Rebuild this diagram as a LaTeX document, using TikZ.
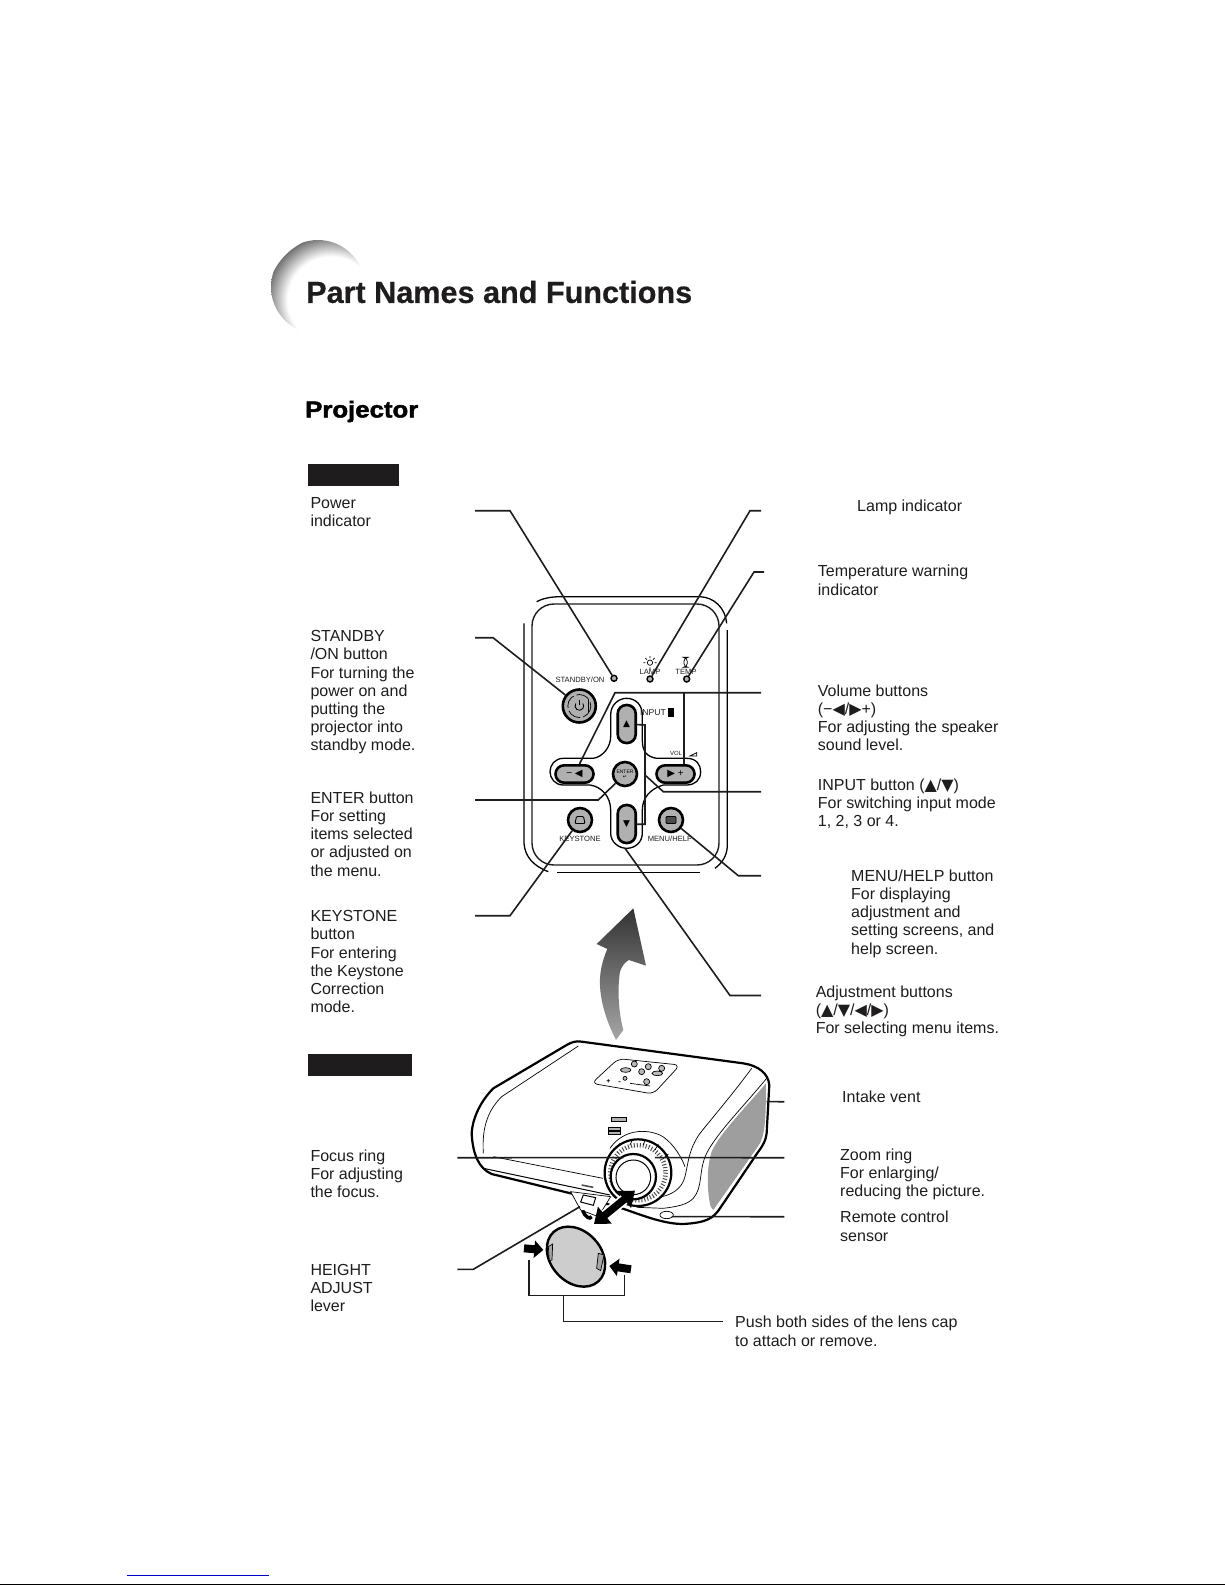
\documentclass[tikz,border=0pt]{standalone}
\usepackage{fontspec}
\usepackage{xcolor}
\usepackage{tikz}
\usetikzlibrary{arrows.meta, shapes.misc, calc}
\setmainfont{Liberation Sans}
\newfontfamily\symfont{DejaVu Sans}
\newfontfamily\heavyfont[UprightFont=* Bold,FakeBold=2,FakeStretch=1.12]{Liberation Sans}
\newfontfamily\titlefont[UprightFont=* Bold,FakeBold=0.5]{Liberation Sans}
\newcommand{\tri}[1]{{\symfont #1}}
\definecolor{myink}{RGB}{30,28,29}
\definecolor{mybutton}{RGB}{176,176,176}
\definecolor{myshade}{RGB}{158,158,158}
\definecolor{mycap}{RGB}{205,205,205}
\definecolor{mylink}{RGB}{0,0,204}
\pgfdeclareradialshading{ballrim}{\pgfpoint{0bp}{0bp}}{color(0bp)=(white); color(17bp)=(white); color(26bp)=(black!62); color(50bp)=(black!62)}
\tikzset{
  caption/.style={anchor=north west, align=left, inner sep=0pt, text=myink,
    font=\fontsize{16}{18.2}\selectfont},
  tiny/.style={inner sep=0pt, text=myink, font=\fontsize{7.6}{9}\selectfont},
  blackbar/.style={rectangle, fill=myink, inner sep=0pt, anchor=north west},
  panel/.style={rectangle, draw=myink, rounded corners=22pt, line width=1.4pt,
    minimum width=187pt, minimum height=261pt},
  roundbtn/.style={circle, draw=black, fill=mybutton, line width=2.6pt, inner sep=0pt},
  led/.style={circle, draw=black, fill=mybutton, line width=1.4pt,
    minimum size=6pt, inner sep=0pt},
  hpill/.style={rectangle, draw=black, fill=mybutton, line width=2.6pt, rounded corners=8.6pt,
    minimum width=38pt, minimum height=17.4pt, inner sep=0pt, font=\fontsize{10}{10}\selectfont},
  vpill/.style={rectangle, draw=black, fill=mybutton, line width=2.6pt, rounded corners=8.6pt,
    minimum width=18pt, minimum height=38pt, inner sep=0pt, font=\fontsize{9}{9}\selectfont},
  leader/.style={line width=1.6pt, draw=myink},
  thinline/.style={line width=0.7pt, draw=black},
  bodyline/.style={line width=2.2pt, draw=black},
  fatarrow/.style={line width=7.5pt, draw=black}
}

\begin{document}
\begin{tikzpicture}[x=1pt, y=-1pt]
  \useasboundingbox (0,0) rectangle (1225,1585);

  % corner ball behind the title
  \begin{scope}
    \clip (318,287) circle (47);
    \shade[shading=ballrim] (331,300) circle (64);
  \end{scope}
  \node[anchor=west, inner sep=0pt, text=myink, font=\fontsize{30.6}{31}\titlefont] (title) at (306,292) {Part Names and Functions};
  \node[anchor=west, inner sep=0pt, font=\fontsize{23}{23}\heavyfont] (sub) at (305,411.5) {Projector};
  \node[blackbar, minimum width=91pt, minimum height=22pt] (topbar) at (308,464) {};
  \node[blackbar, minimum width=104pt, minimum height=22pt] (sidebar) at (308,1054) {};

  % left captions
  \node[caption] (cpower) at (310.3,495.3) {\strut Power\\indicator};
  \node[caption] (cstandby) at (310.3,628.8) {\strut STANDBY\\/ON button\\For turning the\\power on and\\putting the\\projector into\\standby mode.};
  \node[caption] (center) at (310.3,790.4) {\strut ENTER button\\For setting\\items selected\\or adjusted on\\the menu.};
  \node[caption] (ckey) at (310.3,908.7) {\strut KEYSTONE\\button\\For entering\\the Keystone\\Correction\\mode.};
  \node[caption] (cfocus) at (310.3,1148.2) {\strut Focus ring\\For adjusting\\the focus.};
  \node[caption] (cheight) at (310.3,1262.5) {\strut HEIGHT\\ADJUST\\lever};

  % right captions
  \node[caption] (clamp) at (857,498.4) {\strut Lamp indicator};
  \node[caption] (ctemp) at (817.7,564) {\strut Temperature warning\\indicator};
  \node[caption] (cvol) at (817.7,683.3) {\strut Volume buttons\\(−\tri{◀}/\tri{▶}+)\\For adjusting the speaker\\sound level.};
  \node[caption] (cinput) at (817.7,777.3) {\strut INPUT button (\tri{▲}/\tri{▼})\\For switching input mode\\1, 2, 3 or 4.};
  \node[caption] (cmenu) at (851,868.3) {\strut MENU/HELP button\\For displaying\\adjustment and\\setting screens, and\\help screen.};
  \node[caption] (cadj) at (815.6,984.5) {\strut Adjustment buttons\\(\tri{▲}/\tri{▼}/\tri{◀}/\tri{▶})\\For selecting menu items.};
  \node[caption] (cintake) at (842,1089.6) {\strut Intake vent};
  \node[caption] (czoom) at (840,1147.2) {\strut Zoom ring\\For enlarging/\\reducing the picture.};
  \node[caption] (cremote) at (840,1209.9) {\strut Remote control\\sensor};
  \node[caption] (cpush) at (735,1315) {\strut Push both sides of the lens cap\\to attach or remove.};

  % control panel
  \node[panel] (panel) at (625.5,734.5) {};
  \begin{scope}[shift={(470,580)}, x=0.3333pt, y=-0.3333pt]
    \draw[thinline, line width=1.3pt] (162,130) -- (162,790) .. controls (165,830) and (190,858) .. (235,875);
    \draw[thinline, line width=1.3pt] (200,65) .. controls (225,52) and (250,50) .. (280,50) -- (690,50) .. controls (730,52) and (765,80) .. (770,130);
    \draw[thinline, line width=1.3pt] (772,150) -- (772,800) .. controls (770,830) and (755,850) .. (735,865);
    \draw[thinline, line width=1.3pt] (262,878) -- (690,878);
    \draw[thinline, line width=1.3pt, fill=white] (422,405) .. controls (422,375) and (445,355) .. (470,355) .. controls (497,355) and (517,375) .. (517,405) -- (517,480) .. controls (517,515) and (530,530) .. (560,535) -- (650,535) .. controls (680,535) and (692,555) .. (692,575) .. controls (692,600) and (675,615) .. (650,615) -- (580,615) .. controls (545,625) and (517,650) .. (517,690) -- (517,760) .. controls (517,785) and (497,805) .. (470,805) .. controls (445,805) and (422,785) .. (422,760) -- (422,690) .. controls (422,650) and (395,620) .. (360,615) -- (280,615) .. controls (255,615) and (240,595) .. (240,575) .. controls (240,555) and (255,535) .. (280,535) -- (370,535) .. controls (400,530) and (422,500) .. (422,470) -- cycle;
    % lamp and temperature marks
    \draw[thinline] (540,248) circle (8);
    \draw[thinline] (540,228) -- (540,234) (540,262) -- (540,268) (520,248) -- (526,248) (554,248) -- (560,248) (526,234) -- (531,239) (554,234) -- (549,239);
    \draw[thinline, rounded corners=4pt] (642,232) rectangle (652,262);
    \draw[thinline, fill=black] (596,384) rectangle (610,408);
    \draw[thinline] (660,528) -- (680,518) -- (680,528) -- cycle;
  \end{scope}

  \node[tiny] (tstandby) at (580,679.5) {STANDBY/ON};
  \node[tiny] (tlamp) at (650,671.5) {LAMP};
  \node[tiny] (ttemp) at (686,671.5) {TEMP};
  \node[tiny, font=\fontsize{8.6}{9}\selectfont] (tinput) at (653,713) {INPUT};
  \node[tiny, font=\fontsize{6}{7}\selectfont] (tvol) at (676,753.5) {VOL};
  \node[tiny] (tkey) at (580,838.5) {KEYSTONE};
  \node[tiny] (tmenu) at (670,838.5) {MENU/HELP};

  \node[led] (ledstandby) at (614,678.3) {};
  \node[led] (ledlamp) at (650,679) {};
  \node[led] (ledtemp) at (686.7,679) {};
  \node[roundbtn, minimum size=33pt] (btnpower) at (579.3,706) {};
  \draw[thinline, dash pattern=on 14pt off 3pt] (btnpower) circle (11.5);
  \draw[thinline, line width=0.9pt] ($(btnpower)+(-3.5,-2.5)$) arc[start angle=215, end angle=-35, radius=4.3];
  \draw[thinline, line width=0.9pt] ($(btnpower)+(0,-6.5)$) -- ($(btnpower)+(0,-1)$);
  \draw[thinline, line width=0.9pt] ($(btnpower)+(9,-6)$) -- ($(btnpower)+(9,6)$);
  \node[vpill] (btnup) at (626.7,724) {\tri{▲}};
  \node[vpill] (btndown) at (626.7,824) {\tri{▼}};
  \node[hpill] (btnminus) at (574.5,774) {− \tri{◀}};
  \node[hpill] (btnplus) at (675.5,774) {\tri{▶} +};
  \node[roundbtn, minimum size=24pt, align=center, font=\fontsize{5}{6}\selectfont] (btnenter) at (625,774) {ENTER\\[-1pt]\tri{↵}};
  \node[roundbtn, minimum size=24pt] (btnkey) at (580,820) {};
  \node[roundbtn, minimum size=24pt] (btnmenu) at (671,820) {};
  \draw[thinline, line width=0.9pt, rounded corners=1pt] ($(btnkey)+(-5,3.5)$) -- ($(btnkey)+(-3.5,-3.5)$) -- ($(btnkey)+(3.5,-3.5)$) -- ($(btnkey)+(5,3.5)$) -- cycle;
  \draw[thinline, line width=0.9pt, fill=black!70, rounded corners=1pt] ($(btnmenu)+(-5,-3.5)$) rectangle ($(btnmenu)+(5,3.5)$);

  % lift arrow
  \begin{scope}[shift={(580,895)}, x=0.3333pt, y=-0.3333pt]
    \shade[top color=black!80, bottom color=black!35] (160,40) -- (50,147) -- (82,162) .. controls (65,200) and (58,240) .. (60,270) .. controls (62,330) and (85,390) .. (108,435) -- (130,405) .. controls (115,350) and (112,280) .. (120,230) .. controls (125,215) and (135,200) .. (147,195) -- (198,212) -- cycle;
  \end{scope}

  % projector
  \begin{scope}[shift={(450,1020)}, x=0.3333pt, y=-0.3333pt]
    \draw[bodyline, fill=white] (65,340) .. controls (68,290) and (95,240) .. (130,205) -- (350,75) .. controls (365,66) and (380,62) .. (395,65) -- (880,130) .. controls (925,137) and (955,160) .. (958,195) -- (950,340) .. controls (948,360) and (940,375) .. (925,395) -- (810,565) .. controls (790,595) and (770,608) .. (700,612) .. controls (650,612) and (600,595) .. (525,568) -- (370,522) -- (125,462) .. controls (85,445) and (68,400) .. (65,340) -- cycle;
    \fill[myshade] (948,190) .. controls (880,270) and (810,340) .. (785,395) .. controls (770,440) and (770,510) .. (782,560) -- (790,570) -- (925,378) .. controls (945,350) and (948,300) .. cycle;
    \draw[thinline] (100,400) .. controls (95,320) and (115,270) .. (155,230) -- (385,78);
    \draw[thinline] (130,410) -- (459,475);
    \draw[thinline, line width=1pt] (100,445) -- (480,525);
    \draw[thinline] (905,145) .. controls (850,220) and (790,290) .. (750,340) .. controls (715,390) and (715,430) .. (705,470) .. controls (695,510) and (660,525) .. (635,530);
    \draw[thinline] (950,175) .. controls (880,260) and (800,340) .. (770,400) .. controls (745,450) and (760,500) .. (730,535) .. controls (710,555) and (680,560) .. (640,565) -- (560,562);
    \draw[thinline] (480,385) .. controls (510,340) and (570,320) .. (630,345) .. controls (660,360) and (690,400) .. (705,440);
    % top controls
    \draw[thinline, fill=white, rounded corners=6pt] (505,116) -- (690,135) -- (610,222) -- (425,190) -- cycle;
    \draw[thinline, fill=gray!55] (553,132) circle (9) (595,140) circle (9) (635,145) circle (9) (575,155) circle (9) (590,185) circle (9) (527,150) ellipse (16 and 7) (622,160) ellipse (16 and 7) (525,175) circle (6);
    \draw[thinline] (470,182) -- (480,182) (475,177) -- (475,187) (505,185) -- (512,185) (540,190) -- (600,198);
    % logo marks
    \draw[thinline, fill=gray!60] (483,293) rectangle (530,305);
    \draw[thinline, fill=gray!60] (476,322) rectangle (510,330) (476,334) rectangle (510,342);
    % lens
    \draw[bodyline, fill=white] (564,458) circle (100);
    \draw[line width=4.5pt, draw=black!70, dash pattern=on 1pt off 2pt] (564,458) circle (83);
    \draw[bodyline, fill=white] (550,470) circle (68);
    \draw[thinline, line width=1pt, fill=white] (550,472) circle (52);
    \draw[thinline] (500,385) -- (510,370) (540,375) -- (548,358) (580,375) -- (586,358) (615,390) -- (625,372) (640,415) -- (655,402);
    % lever and housing
    \draw[thinline, fill=white] (362,515) -- (482,530) -- (445,590) -- (392,570) -- cycle;
    \draw[thinline, line width=1pt, fill=white] (400,525) -- (437,533) -- (430,556) -- (392,546) -- cycle;
    \draw[line width=3.5pt, draw=black] (398,572) .. controls (405,590) and (420,600) .. (425,590);
    \draw[line width=1.6pt, draw=black!70] (395,495) -- (430,502);
    % remote sensor
    \draw[thinline, fill=white] (650,585) ellipse (20 and 11);
    % push arrow
    \coordinate (capend) at (432,612);
    \coordinate (lensend) at (555,512);
    \draw[white, line width=11pt, shorten <=12pt, shorten >=12pt] (capend) -- (lensend);
    \draw[fatarrow, {Triangle[length=14pt,width=21pt]}-{Triangle[length=14pt,width=21pt]}] (capend) -- (lensend);
    % lens cap
    \draw[bodyline, line width=2.4pt, fill=mycap, rotate around={-48:(378,710)}] (378,710) ellipse (100 and 76);
    \draw[thinline, fill=gray!70] (295,680) -- (308,672) -- (306,720) -- (298,722) -- cycle;
    \draw[thinline, fill=gray!70] (445,700) -- (462,705) -- (452,752) -- (440,745) -- cycle;
    \draw[line width=8pt, draw=black, -{Triangle[length=9pt,width=17pt]}] (222,685) -- (280,690);
    \draw[line width=8pt, draw=black, -{Triangle[length=9pt,width=17pt]}] (543,748) -- (478,738);
    \coordinate (capl) at (237,720);
    \coordinate (capr) at (523,765);
    \coordinate (capm) at (340,827);
    \coordinate (pushend) at (820,905);
    \draw[leader] (capl) -- (237,827) -- (523,827) -- (capr);
    \draw[leader] (capm) |- (pushend);
    % leader end points on the body
    \coordinate (intakept) at (950,245);
    \coordinate (focuspt) at (520,413);
    \coordinate (zoompt) at (615,413);
    \coordinate (sensorpt) at (665,590);
    \coordinate (leverpt) at (390,560);
  \end{scope}

  % free ends
  \coordinate (apower) at (475,510.7);
  \coordinate (alamp) at (761,510.7);
  \coordinate (atemp) at (764,572);
  \coordinate (astandby) at (475,637.7);
  \coordinate (avol) at (761,692.7);
  \coordinate (ainput) at (761,791.7);
  \coordinate (aenter) at (475,800);
  \coordinate (akey) at (475,915.7);
  \coordinate (amenu) at (761,875.7);
  \coordinate (aadj) at (761,995.5);
  \coordinate (aintake) at (784.3,1101.7);
  \coordinate (afocus) at (457.3,1157.7);
  \coordinate (azoom) at (784.3,1157.7);
  \coordinate (aremote) at (784.3,1216.7);
  \coordinate (aheight) at (457.3,1269.3);
  \coordinate (adjpt) at (625,848.3);
  \coordinate (voljoint) at (684,692.7);
  \coordinate (brackettop) at (645,725);
  \coordinate (bracketlow) at (645,824.3);
  \coordinate (bracketmid) at (645,775);

  \draw[leader] (apower) -- ++(35,0) -- (ledstandby);
  \draw[leader] (alamp) -- ++(-11,0) -- (ledlamp);
  \draw[leader] (atemp) -- ++(-10,0) -- (ledtemp);
  \draw[leader] (astandby) -- ++(18,0) -- (btnpower);
  \draw[leader] (avol) -- ++(-146,0) -- (btnminus);
  \draw[leader] (voljoint) -- (voljoint |- btnplus.north);
  \draw[leader] (btnup) -- (brackettop) -- (bracketlow) -- (btndown);
  \draw[leader] (ainput) -- ++(-97.7,0) -- (bracketmid);
  \draw[leader] (aenter) -- ++(123.3,0) -- (btnenter);
  \draw[leader] (akey) -- ++(35,0) -- (btnkey);
  \draw[leader] (amenu) -- ++(-22.7,0) -- (btnmenu);
  \draw[leader] (aadj) -- ++(-31,0) -- (adjpt);
  \draw[leader] (aintake) -- (intakept);
  \draw[leader] (afocus) -- (focuspt);
  \draw[leader] (azoom) -- (zoompt);
  \draw[leader] (aremote) -- (sensorpt);
  \draw[leader] (aheight) -- ++(16,0) -- (leverpt);

  % page foot
  \coordinate (linka) at (127,1575);
  \coordinate (linkb) at (269,1575);
  \coordinate (rulea) at (0,1584);
  \coordinate (ruleb) at (1225,1584);
  \draw[mylink, line width=1pt] (linka) -- (linkb);
  \draw[black, line width=1pt] (rulea) -- (ruleb);
\end{tikzpicture}
\end{document}
